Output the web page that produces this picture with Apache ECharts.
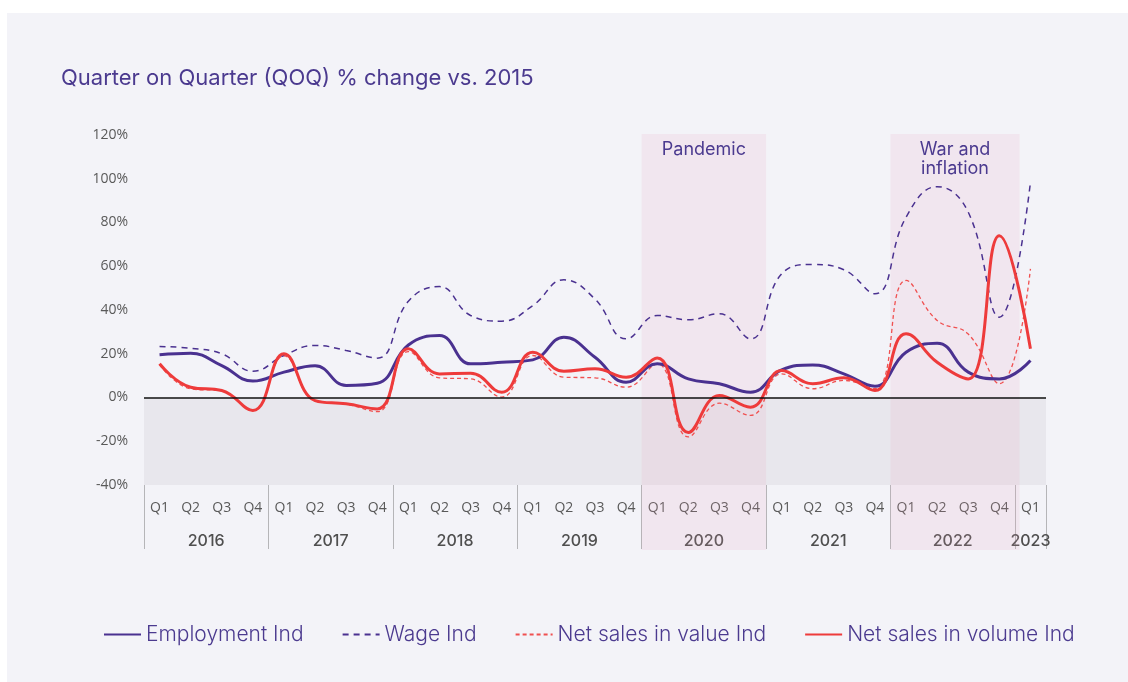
<!DOCTYPE html>
<html>
<head>
<meta charset="utf-8">
<script src="https://cdn.jsdelivr.net/npm/echarts@6/dist/echarts.min.js"></script>
<style>
    html, body { margin: 0; padding: 0; background: #ffffff; }
    #qoq { position: absolute; left: 7px; top: 13px; width: 1121px; height: 669px; background: #f3f3f8; }
</style>
</head>
<body>
<div id="qoq"></div>
<script>
// quarters 2016 Q1 .. 2023 Q1
var quarters = ['Q1', 'Q2', 'Q3', 'Q4', 'Q1', 'Q2', 'Q3', 'Q4', 'Q1', 'Q2', 'Q3', 'Q4',
    'Q1', 'Q2', 'Q3', 'Q4', 'Q1', 'Q2', 'Q3', 'Q4', 'Q1', 'Q2', 'Q3', 'Q4',
    'Q1', 'Q2', 'Q3', 'Q4', 'Q1'];
var years = ['2016', '2017', '2018', '2019', '2020', '2021', '2022', '2023'];
var yearStart = [0, 4, 8, 12, 16, 20, 24, 28, 29];   // year borders, in quarter units
var yearMid = [2, 6, 10, 14, 18, 22, 26, 28.5];

var employment = [19.5, 20.2, 14.6, 7.5, 11.6, 14.5, 5.5, 6.5, 24, 28.3, 15.4, 16.1, 17.2, 27.6, 18.4,
    7, 15.4, 8.5, 6.3, 2.4, 12.6, 14.9, 10.8, 5.2, 20.7, 24.8, 11.6, 8.5, 16.9];
var wage = [23.3, 22.5, 20, 12, 19.2, 23.8, 21.5, 18, 44, 50.7, 37.5, 34.9, 42, 53.8, 45,
    26.8, 37.5, 35.5, 38.3, 26.8, 56.5, 60.8, 58.4, 47.4, 82.4, 96.4, 84.7, 36.7, 98.4];
var salesValue = [15, 4, 3, -6, 19, -1.5, -3, -6.5, 21, 9, 8.5, 0.2, 19.2, 9.3, 9,
    4.7, 15.4, -18, -2.6, -8.2, 10.8, 4, 7.8, 4, 53.5, 35.2, 29, 6.3, 58.8];
var salesVolume = [15.4, 4.7, 3.2, -5.9, 20, -1.4, -2.9, -5.2, 22.3, 10.8, 11.1, 2.4, 20.7, 12, 13.1,
    9.3, 18.1, -16, 0.9, -4.4, 12.3, 6.3, 9, 3.2, 29.1, 16.1, 8.5, 74, 22.3];

// shaded periods: [start, end, label]
var periods = [[16, 20, 'Pandemic'], [24, 28.15, 'War and\ninflation']];

(function () {

    var chart = echarts.init(document.getElementById('qoq'));

    var purple = '#4a3190';
    var red = '#ee3b3b';
    var txt = '#4b3a8f';

    var option = {
        backgroundColor: '#f3f3f8',
        animation: false,
        title: {
            text: 'Quarter on Quarter (QOQ) % change vs. 2015',
            left: 49,
            top: 49,
            textStyle: {
                color: txt,
                fontFamily: 'Inter',
                fontSize: 22,
                fontWeight: 'normal'
            }
        },
        legend: {
            data: ['Employment Ind', 'Wage Ind', 'Net sales in value Ind', 'Net sales in volume Ind'],
            left: 91,
            top: 606,
            itemWidth: 37,
            itemHeight: 14,
            itemGap: 38,
            itemStyle: { opacity: 0 },
            textStyle: {
                color: txt,
                fontFamily: 'Inter',
                fontSize: 21,
                fontWeight: 300
            }
        },
        grid: [
            { left: 137, right: 82, top: 122, bottom: 197 },
            { left: 137, right: 82, top: 121, bottom: 132 }
        ],
        xAxis: [
            {
                type: 'category',
                gridIndex: 0,
                data: quarters,
                boundaryGap: true,
                axisLine: { show: false },
                axisTick: { show: false },
                axisLabel: {
                    margin: 16,
                    color: '#595959',
                    fontFamily: 'Open Sans',
                    fontSize: 14
                }
            },
            {
                type: 'value',
                gridIndex: 0,
                position: 'bottom',
                min: 0,
                max: 29,
                splitLine: { show: false },
                axisLine: { show: false },
                axisTick: {
                    show: true,
                    length: 64,
                    customValues: yearStart,
                    lineStyle: { color: '#b5b5b8', width: 1 }
                },
                axisLabel: {
                    customValues: yearMid,
                    margin: 48,
                    color: '#4f4f4f',
                    fontFamily: 'Inter',
                    fontSize: 16,
                    fontWeight: 500,
                    formatter: function (v) {
                        return years[Math.floor(v / 4)];
                    }
                }
            },
            {
                type: 'value',
                gridIndex: 1,
                min: 0,
                max: 29,
                show: false
            }
        ],
        yAxis: [
            {
                type: 'value',
                gridIndex: 0,
                min: -40,
                max: 120,
                interval: 20,
                splitLine: { show: false },
                axisLine: { show: false },
                axisTick: { show: false },
                axisLabel: {
                    margin: 16,
                    color: '#595959',
                    fontFamily: 'Open Sans',
                    fontSize: 14,
                    formatter: '{value}%'
                }
            },
            {
                type: 'value',
                gridIndex: 1,
                min: 0,
                max: 1,
                show: false
            }
        ],
        series: [
            {
                name: 'below zero',
                type: 'line',
                xAxisIndex: 0,
                yAxisIndex: 0,
                z: 1,
                silent: true,
                data: [],
                markArea: {
                    silent: true,
                    itemStyle: { color: '#e8e7ed' },
                    data: [[{ yAxis: -40 }, { yAxis: 0 }]]
                },
                markLine: {
                    silent: true,
                    symbol: 'none',
                    label: { show: false },
                    lineStyle: { color: '#111111', width: 1.5, type: 'solid' },
                    data: [{ yAxis: 0 }]
                }
            },
            {
                name: 'periods',
                type: 'line',
                xAxisIndex: 2,
                yAxisIndex: 1,
                z: 2,
                silent: true,
                data: [],
                markArea: {
                    silent: true,
                    itemStyle: { color: 'rgba(232, 160, 190, 0.15)' },
                    label: {
                        show: true,
                        position: 'insideTop',
                        distance: 6,
                        color: txt,
                        fontFamily: 'Inter',
                        fontSize: 18,
                        lineHeight: 19
                    },
                    data: periods.map(function (p) {
                        return [{ xAxis: p[0], name: p[2] }, { xAxis: p[1] }];
                    })
                }
            },
            {
                name: 'Employment Ind',
                type: 'line',
                z: 4,
                smooth: 0.45,
                symbol: 'none',
                itemStyle: { color: purple },
                lineStyle: { color: purple, width: 3 },
                data: employment
            },
            {
                name: 'Wage Ind',
                type: 'line',
                z: 3,
                smooth: 0.45,
                symbol: 'none',
                itemStyle: { color: purple },
                lineStyle: { color: purple, width: 1.5, type: [6, 5] },
                data: wage
            },
            {
                name: 'Net sales in value Ind',
                type: 'line',
                z: 3,
                smooth: 0.45,
                symbol: 'none',
                itemStyle: { color: '#f05050' },
                lineStyle: { color: '#f05050', width: 1.3, type: [4, 3] },
                data: salesValue
            },
            {
                name: 'Net sales in volume Ind',
                type: 'line',
                z: 4,
                smooth: 0.45,
                symbol: 'none',
                itemStyle: { color: red },
                lineStyle: { color: red, width: 3 },
                data: salesVolume
            }
        ]
    };

    chart.setOption(option);
})();
</script>
</body>
</html>
